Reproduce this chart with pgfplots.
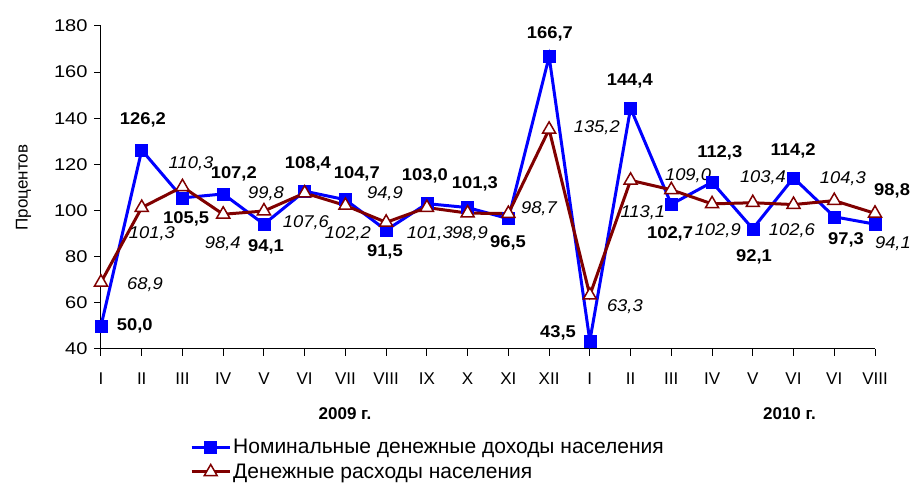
\documentclass[border=0pt]{standalone}
\usepackage{pgfplots}
\pgfplotsset{compat=1.18}
\usepackage{fontspec}
\setmainfont{Liberation Sans}
\definecolor{nomblue}{RGB}{0,0,255}
\definecolor{expred}{RGB}{128,0,0}
\tikzset{
  lb/.style={font=\fontsize{17}{20}\selectfont\bfseries, xscale=1.08},
  li/.style={font=\fontsize{17}{20}\selectfont\itshape, xscale=1.08},
}

\begin{document}
\begin{tikzpicture}
\useasboundingbox (0pt,0pt) rectangle (911pt,486pt);
\begin{axis}[
  at={(101pt,137pt)}, anchor=south west,
  scale only axis, width=774pt, height=323pt,
  xmin=0, xmax=19, ymin=40, ymax=180,
  axis x line*=bottom, axis y line*=left,
  axis line style={line width=1pt, black},
  tick style={line width=1pt, black},
  tick align=outside, major tick length=7pt,
  xtick={0,...,19},
  xticklabels={I,II,III,IV,V,VI,VII,VIII,IX,X,XI,XII,I,II,III,IV,V,VI,VI,VIII},
  ytick={40,60,...,180},
  ticklabel style={font=\fontsize{17}{20}\selectfont},
  xticklabel style={yshift=-13pt},
  yticklabel style={xscale=1.18, xshift=-2pt},
  /pgf/number format/assume math mode=true,
  ylabel={Процентов},
  ylabel style={at={(axis description cs:-0.1,0.5)}, anchor=center, font=\fontsize{17}{20}\selectfont},
  clip=false,
  legend cell align=left,
  legend style={at={(axis description cs:0.115,-0.272)}, anchor=north west, draw=none, fill=none,
    font=\fontsize{21}{23}\selectfont, row sep=5pt, inner sep=0pt},
  legend image code/.code={\draw[mark repeat=2,mark phase=2,#1] plot coordinates {(0pt,0pt) (19pt,0pt) (38pt,0pt)};},
]
\addplot[nomblue, line width=3pt, mark=square*, mark size=6pt, mark options={solid, fill=nomblue, draw=nomblue, line width=0.5pt}] coordinates {
  (0,50.0) (1,126.2) (2,105.5) (3,107.2) (4,94.1) (5,108.4) (6,104.7) (7,91.5) (8,103.0) (9,101.3)
  (10,96.5) (11,166.7) (12,43.5) (13,144.4) (14,102.7) (15,112.3) (16,92.1) (17,114.2) (18,97.3) (19,94.1)
};
\addlegendentry{Номинальные денежные доходы населения}
\addplot[expred, line width=3pt, mark=triangle*, mark size=7.5pt, mark options={solid, fill=white, draw=expred, line width=1.5pt}] coordinates {
  (0,68.9) (1,101.3) (2,110.3) (3,98.4) (4,99.8) (5,107.6) (6,102.2) (7,94.9) (8,101.3) (9,98.9)
  (10,98.7) (11,135.2) (12,63.3) (13,113.1) (14,109.0) (15,102.9) (16,103.4) (17,102.6) (18,104.3) (19,98.8)
};
\addlegendentry{Денежные расходы населения}
% bold labels (nominal incomes)
\node[lb] at (axis cs:0.83,49.9) {50,0};
\node[lb] at (axis cs:1.03,139.4) {126,2};
\node[lb] at (axis cs:2.09,96.6) {105,5};
\node[lb] at (axis cs:3.26,116.1) {107,2};
\node[lb] at (axis cs:4.05,84.1) {94,1};
\node[lb] at (axis cs:5.08,120.4) {108,4};
\node[lb] at (axis cs:6.28,116.1) {104,7};
\node[lb] at (axis cs:6.97,81.9) {91,5};
\node[lb] at (axis cs:7.95,115.2) {103,0};
\node[lb] at (axis cs:9.18,111.7) {101,3};
\node[lb] at (axis cs:9.99,85.8) {96,5};
\node[lb] at (axis cs:11.02,176.6) {166,7};
\node[lb] at (axis cs:11.22,46.9) {43,5};
\node[lb] at (axis cs:12.98,156.2) {144,4};
\node[lb] at (axis cs:13.97,90.1) {102,7};
\node[lb] at (axis cs:15.19,125.1) {112,3};
\node[lb] at (axis cs:16.03,79.8) {92,1};
\node[lb] at (axis cs:16.99,126.0) {114,2};
\node[lb] at (axis cs:18.29,87.1) {97,3};
\node[lb] at (axis cs:19.42,108.7) {98,8};
% italic labels (expenses)
\node[li] at (axis cs:1.08,67.7) {68,9};
\node[li] at (axis cs:1.25,90.1) {101,3};
\node[li] at (axis cs:2.21,120.4) {110,3};
\node[li] at (axis cs:2.99,85.8) {98,4};
\node[li] at (axis cs:4.05,107.4) {99,8};
\node[li] at (axis cs:5.03,94.9) {107,6};
\node[li] at (axis cs:6.06,90.1) {102,2};
\node[li] at (axis cs:6.97,107.4) {94,9};
\node[li] at (axis cs:8.07,90.1) {101,3};
\node[li] at (axis cs:9.06,90.1) {98,9};
\node[li] at (axis cs:10.75,100.9) {98,7};
\node[li] at (axis cs:12.17,135.9) {135,2};
\node[li] at (axis cs:12.86,58.2) {63,3};
\node[li] at (axis cs:13.30,99.2) {113,1};
\node[li] at (axis cs:14.41,115.2) {109,0};
\node[li] at (axis cs:15.14,91.4) {102,9};
\node[li] at (axis cs:16.25,114.3) {103,4};
\node[li] at (axis cs:16.96,91.4) {102,6};
\node[li] at (axis cs:18.21,113.9) {104,3};
\node[li] at (axis cs:19.44,85.8) {94,1};
% years
\node[font=\fontsize{17}{20}\selectfont\bfseries] at (axis cs:5.99,12.0) {2009 г.};
\node[font=\fontsize{17}{20}\selectfont\bfseries] at (axis cs:16.9,12.0) {2010 г.};
\end{axis}
\end{tikzpicture}
\end{document}
